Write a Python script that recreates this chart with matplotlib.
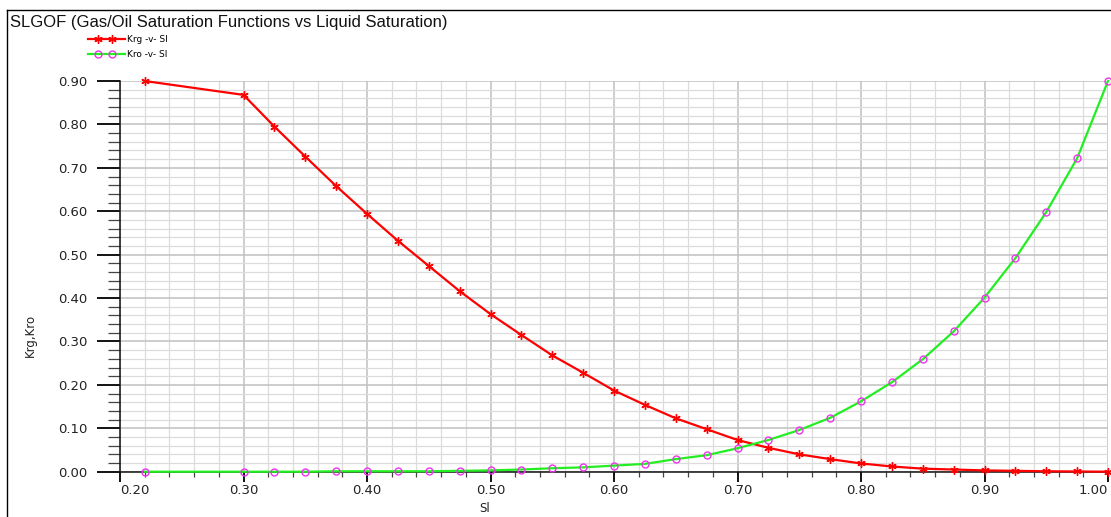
import numpy as np
import matplotlib
matplotlib.use('Agg')
import matplotlib.pyplot as plt
from matplotlib.lines import Line2D
from matplotlib.legend_handler import HandlerLine2D
from matplotlib.ticker import MultipleLocator, FormatStrFormatter

# 데이터
sl = [0.22, 0.30, 0.325, 0.35, 0.375, 0.40, 0.425, 0.45, 0.475, 0.50,
      0.525, 0.55, 0.575, 0.60, 0.625, 0.65, 0.675, 0.70, 0.725, 0.75,
      0.775, 0.80, 0.825, 0.85, 0.875, 0.90, 0.925, 0.95, 0.975, 1.00]
krg = [0.900, 0.868, 0.795, 0.726, 0.658, 0.594, 0.532, 0.474, 0.416, 0.363,
       0.315, 0.268, 0.228, 0.187, 0.154, 0.123, 0.098, 0.073, 0.055, 0.040,
       0.029, 0.019, 0.012, 0.007, 0.005, 0.003, 0.002, 0.001, 0.0005, 0.0]
kro = [0.0, 0.0, 0.0, 0.0, 0.001, 0.001, 0.001, 0.001, 0.002, 0.003,
       0.005, 0.008, 0.010, 0.014, 0.018, 0.029, 0.038, 0.054, 0.073, 0.096,
       0.124, 0.162, 0.206, 0.259, 0.323, 0.401, 0.492, 0.598, 0.722, 0.900]

title = 'SLGOF (Gas/Oil Saturation Functions vs Liquid Saturation)'
labels = ['Krg -v- Sl', 'Kro -v- Sl']


# 범례 핸들: 선은 끝까지, 마커는 안쪽 두 곳에
class PadHandler(HandlerLine2D):
    def create_artists(self, legend, orig_handle, xdescent, ydescent,
                       width, height, fontsize, trans):
        y = (height - ydescent) / 2
        x0 = -xdescent
        line = Line2D([x0, x0 + width], [y, y])
        self.update_prop(line, orig_handle, legend)
        line.set_marker('None')
        mk = Line2D([x0 + 0.28 * width, x0 + 0.66 * width], [y, y])
        self.update_prop(mk, orig_handle, legend)
        mk.set_linestyle('None')
        line.set_transform(trans)
        mk.set_transform(trans)
        return [line, mk]


W, H = 1111, 517
fig = plt.figure(figsize=(W / 100, H / 100), dpi=100)
ax = fig.add_axes([120 / W, 45.3 / H, 988 / W, 390.7 / H])

ax.plot(sl, krg, color='#ff0000', lw=1.6, marker=(6, 2, 0), ms=6, mew=1.0,
        label=labels[0], clip_on=False, zorder=3)
ax.plot(sl, kro, color='#22ee22', lw=1.6, marker='o', ms=5, mfc='none',
        mec='#ee33ee', mew=1.0, label=labels[1], clip_on=False, zorder=4)

ax.set_xlim(0.2, 1.0)
ax.set_ylim(0.0, 0.9)
ax.xaxis.set_major_locator(MultipleLocator(0.1))
ax.xaxis.set_minor_locator(MultipleLocator(0.02))
ax.yaxis.set_major_locator(MultipleLocator(0.1))
ax.yaxis.set_minor_locator(MultipleLocator(0.02))
ax.xaxis.set_major_formatter(FormatStrFormatter('%.2f'))
ax.yaxis.set_major_formatter(FormatStrFormatter('%.2f'))

ax.grid(which='major', color='#c0c0c0', lw=1.1)
ax.grid(which='minor', color='#dcdcdc', lw=0.9)
ax.set_axisbelow(True)

for s in ['top', 'right']:
    ax.spines[s].set_visible(False)
for s in ['left', 'bottom']:
    ax.spines[s].set_linewidth(1.1)
    ax.spines[s].set_color('#111111')

ax.tick_params(axis='y', which='major', length=16.5, width=1.3, pad=7,
               color='black', labelsize=9.5, labelcolor='#222222')
ax.tick_params(axis='y', which='minor', length=8.5, width=0.9, color='#444444')
ax.tick_params(axis='x', which='major', length=7.2, width=1.3, pad=2,
               color='black', labelsize=9.5, labelcolor='#222222')
ax.tick_params(axis='x', which='minor', length=3.6, width=0.9, color='#444444')

# 양 끝 x 눈금 라벨은 안쪽으로 정렬
fig.canvas.draw()
for tick in ax.xaxis.get_major_ticks():
    loc = tick.get_loc()
    if abs(loc - 0.2) < 1e-6:
        tick.label1.set_horizontalalignment('left')
    elif abs(loc - 1.0) < 1e-6:
        tick.label1.set_horizontalalignment('right')

ax.set_ylabel('Krg,Kro', fontsize=8.5, color='#222222')
ax.yaxis.set_label_coords(-83 / 988, (471.7 - 335) / 390.7)
ax.set_xlabel('Sl', fontsize=8.5, color='#222222')
ax.xaxis.set_label_coords((485 - 120) / 988, -(502 - 471.7) / 390.7)

# 범례
ax.legend(loc='upper left', bbox_to_anchor=(88 / W, 1 - 35 / H),
          bbox_transform=fig.transFigure, frameon=False, fontsize=6.5,
          handler_map={Line2D: PadHandler()},
          handlelength=4.1, handletextpad=0.2,
          labelspacing=0.7, borderpad=0, borderaxespad=0)

fig.text(10 / W, 1 - 22 / H, title, fontsize=12, family='Liberation Sans',
         color='#111111', va='center', ha='left')

# 외곽 테두리
fig.add_artist(Line2D([7 / W, 7 / W], [0, 1 - 10 / H], transform=fig.transFigure,
                      color='black', lw=1))
fig.add_artist(Line2D([7 / W, 1], [1 - 10 / H, 1 - 10 / H], transform=fig.transFigure,
                      color='black', lw=1))

plt.savefig('out.png', dpi=100)
plt.close()
